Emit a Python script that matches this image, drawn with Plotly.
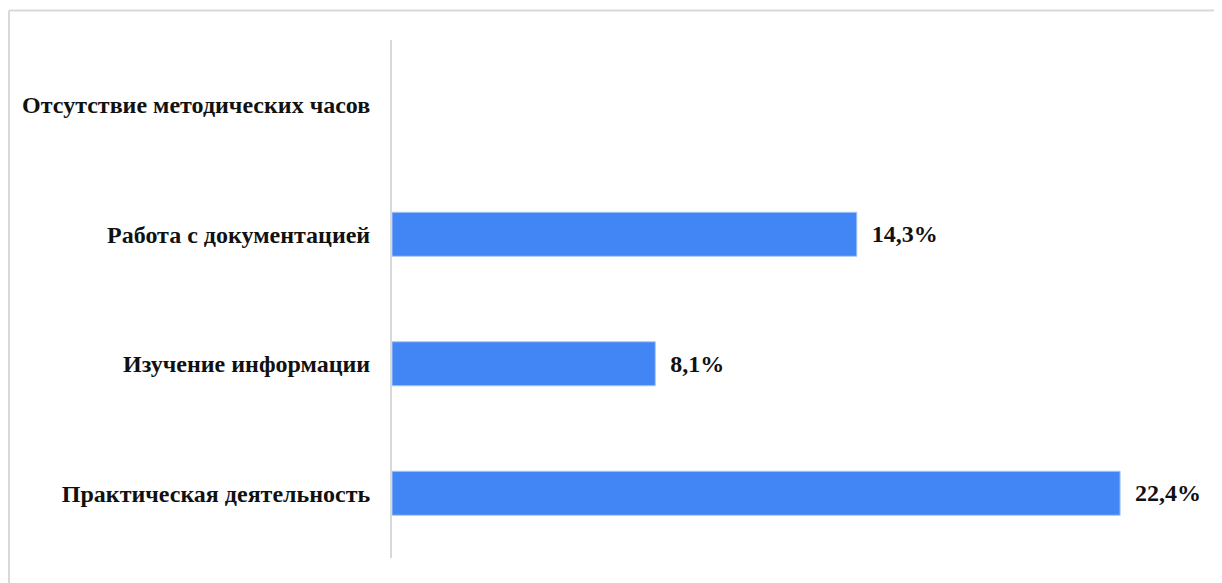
import plotly.graph_objects as go

categories = ["Практическая деятельность", "Изучение информации",
              "Работа с документацией", "Отсутствие методических часов"]
values = [22.4, 8.1, 14.3, None]
labels = ["22,4%", "8,1%", "14,3%", ""]

FONT = "Liberation Serif"

W, H = 1214, 575
L, R, T, B = 384, 19, 32, 25
PW, PH = W - L - R, H - T - B

fig = go.Figure(go.Bar(
    y=categories, x=values, orientation="h",
    marker=dict(color="#4285f4", line=dict(color="#a9c8fb", width=1)),
    text=labels, texttemplate="\u00a0\u00a0%{text}", textposition="outside",
    textfont=dict(family=FONT, size=24, color="#111111", weight="bold"),
    cliponaxis=False, width=0.34,
))

fig.update_layout(
    width=W, height=H,
    margin=dict(l=L, r=R, t=T, b=B),
    paper_bgcolor="white", plot_bgcolor="white",
    showlegend=False,
    xaxis=dict(range=[0, 24.95], visible=False, showgrid=False, zeroline=False),
    yaxis=dict(showline=True, linecolor="#d9d9d9", linewidth=2,
               showgrid=False, zeroline=False, ticks="",
               ticklabelstandoff=15,
               tickfont=dict(family=FONT, size=24, color="#111111", weight="bold")),
    shapes=[
        dict(type="line", xref="paper", yref="paper", x0=-(L - 1) / PW, x1=(W - L) / PW,
             y0=1 + (T - 2.5) / PH, y1=1 + (T - 2.5) / PH,
             line=dict(color="#d9d9d9", width=2)),
        dict(type="line", xref="paper", yref="paper", x0=-(L - 1) / PW, x1=-(L - 1) / PW,
             y0=-B / PH, y1=1 + (T - 2.5) / PH,
             line=dict(color="#d9d9d9", width=2)),
    ],
)

fig.write_html("out.html")
